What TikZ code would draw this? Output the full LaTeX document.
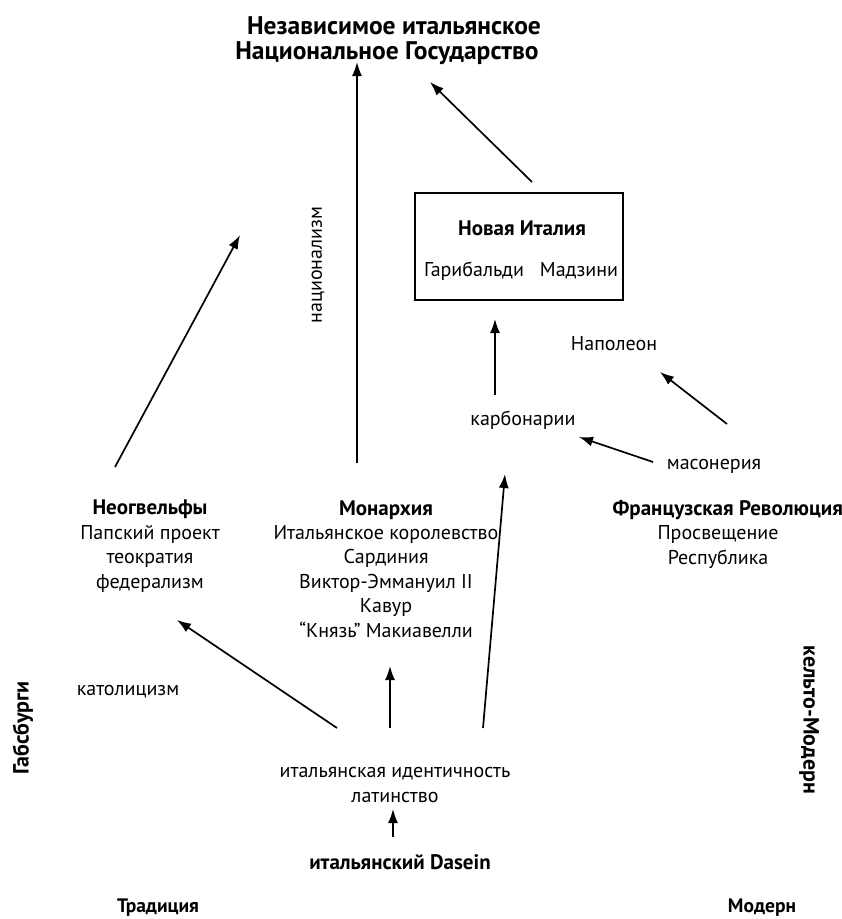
\documentclass[tikz,border=0pt]{standalone}
\usepackage{fontspec}
\setmainfont{PT Sans}
\usetikzlibrary{arrows.meta}
\begin{document}
\begin{tikzpicture}[x=1pt,y=-1pt,
  txt/.style={font=\fontsize{20}{24.4}\selectfont, align=center, inner sep=0pt, anchor=base},
  head/.style={font=\fontsize{21}{24.4}\selectfont\bfseries, align=center, inner sep=0pt, anchor=base},
  corner/.style={font=\fontsize{19.5}{24}\selectfont\bfseries, inner sep=0pt, anchor=base},
  side/.style={font=\fontsize{22}{26}\selectfont\bfseries, inner sep=0pt},
  arr/.style={line width=1.7pt, -{Latex[length=14pt,width=10pt]}}]
\useasboundingbox (0,0) rectangle (842,919);

% top goal
\node[font=\fontsize{25.5}{30}\selectfont\bfseries, inner sep=0pt, anchor=base] (title1) at (394,34) {Независимое итальянское};
\node[font=\fontsize{25.5}{30}\selectfont\bfseries, inner sep=0pt, anchor=base] (title2) at (387,59) {Национальное Государство};

% Young Italy box
\node[draw, line width=1.4pt, minimum width=208pt, minimum height=107pt, inner sep=0pt] (box) at (519,246.5) {};
\node[head] (young) at (522,235) {Новая Италия};
\node[txt] (garib) at (474,276) {Гарибальди};
\node[txt] (mazz) at (579,276) {Мадзини};

% middle labels
\node[font=\fontsize{20}{24}\selectfont, inner sep=0pt, rotate=90] (nation) at (318,265) {национализм};
\node[txt] (napol) at (614,350) {Наполеон};
\node[txt] (carb) at (523,425) {карбонарии};
\node[txt] (mason) at (714,469) {масонерия};

% three columns (multi-line nodes sit on the baseline of their last line)
\node[txt] (guelf) at (150,588) {\fontsize{21}{24.4}\selectfont\textbf{Неогвельфы}\\Папский проект\\теократия\\федерализм};
\node[txt] (monarch) at (386,637) {\fontsize{21}{24.4}\selectfont\textbf{Монархия}\\Итальянское королевство\\Сардиния\\Виктор-Эммануил II\\Кавур\\“Князь” Макиавелли};
\node[head, anchor=base east] (frrev) at (843,515) {Французская Революция};
\node[txt] (enlight) at (718,564) {Просвещение\\Республика};

% lower part
\node[txt] (cathol) at (128,695) {католицизм};
\node[side, rotate=90] (habsb) at (23,728) {Габсбурги};
\node[side, rotate=-90] (celt) at (809,720) {кельто-Модерн};
\node[txt] (ident) at (395,802) {итальянская идентичность\\латинство};
\node[head] (dasein) at (400,869) {итальянский Dasein};
\node[corner] (trad) at (158,912) {Традиция};
\node[corner] (modern) at (762,912) {Модерн};

% connector ends
\coordinate (natFoot) at (357,463);
\coordinate (natHead) at (357,62);
\coordinate (boxOut) at (532,182);
\coordinate (titleIn) at (430,82);
\coordinate (carbOut) at (495,395);
\coordinate (boxIn) at (495,319);
\coordinate (masOut) at (653,462);
\coordinate (carbIn) at (579,437);
\coordinate (revOut) at (727,424);
\coordinate (napIn) at (660,372);
\coordinate (identL) at (337,728);
\coordinate (guelfIn) at (177,620);
\coordinate (identM) at (390,728);
\coordinate (monIn) at (390,666);
\coordinate (identR) at (483,728);
\coordinate (carbIn2) at (505,474);
\coordinate (guelfOut) at (115,467);
\coordinate (guelfHead) at (240,235);
\coordinate (daseinOut) at (393,837);
\coordinate (latinIn) at (393,809);

\draw[arr] (natFoot) -- (natHead);
\draw[arr] (boxOut) -- (titleIn);
\draw[arr] (carbOut) -- (boxIn);
\draw[arr] (masOut) -- (carbIn);
\draw[arr] (revOut) -- (napIn);
\draw[arr] (identL) -- (guelfIn);
\draw[arr] (identM) -- (monIn);
\draw[arr] (identR) -- (carbIn2);
\draw[arr] (guelfOut) -- (guelfHead);
\draw[arr] (daseinOut) -- (latinIn);
\end{tikzpicture}
\end{document}
